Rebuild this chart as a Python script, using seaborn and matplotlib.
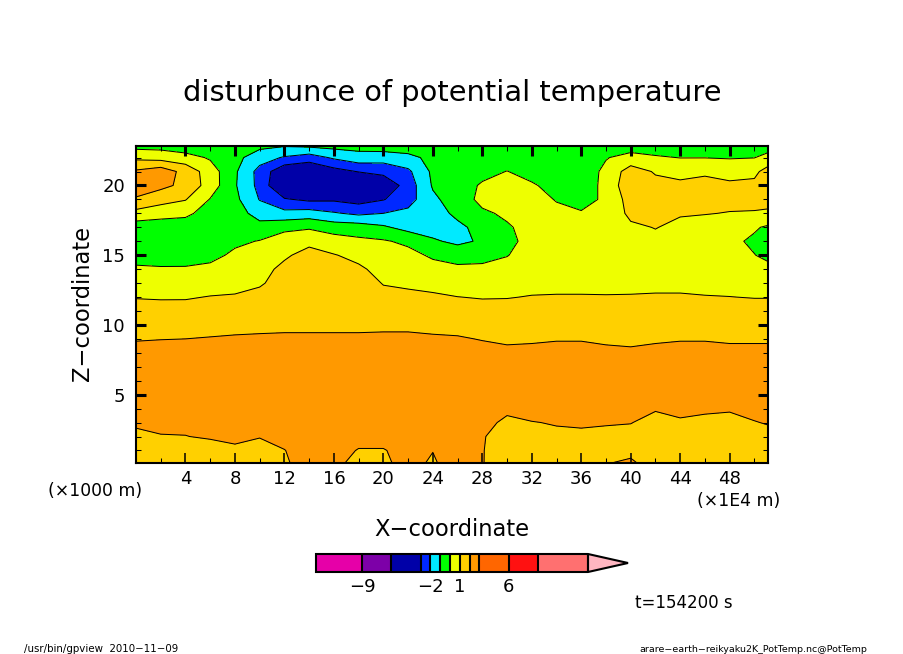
#! /usr/bin/env python3
# -*- coding: utf-8 -*-

import matplotlib
matplotlib.use('Agg')
import matplotlib.pyplot as plt
from matplotlib.ticker import MultipleLocator
import numpy as np
import seaborn as sns

#Grid of the field
x_grid = [0, 2, 4, 6, 8, 10, 12, 14, 16, 18, 20, 22, 24, 26, 28, 30, 32, 34, 36, 38, 40, 42, 44, 46, 48, 50, 51.2]
z_grid = [0, 1, 2, 3, 4, 5, 6, 7, 8, 9, 10, 11, 12, 13, 14, 15, 16, 17, 18, 19, 20, 21, 22, 22.9]
x_tick_values = [4, 8, 12, 16, 20, 24, 28, 32, 36, 40, 44, 48]

#One list per x position, bottom to top
t_x00 = [1.6, 1.75, 1.85, 2.1, 2.3, 2.5, 2.5, 2.4, 2.25, 1.95, 1.63, 1.3, 0.96, 0.54, 0.1, -0.25, -0.35, -0.55, 0.67, 1.85, 2.7, 2.15, 0.77, -0.4]
t_x02 = [1.5, 1.7, 1.96, 2.2, 2.4, 2.6, 2.6, 2.5, 2.3, 1.98, 1.65, 1.28, 0.93, 0.5, 0.07, -0.3, -0.4, -0.5, 0.35, 1.4, 2.25, 2.6, 0.6, -0.4]
t_x04 = [1.5, 1.7, 1.98, 2.2, 2.5, 2.7, 2.7, 2.5, 2.3, 2.0, 1.65, 1.3, 0.93, 0.5, 0.1, -0.4, -0.5, -0.6, 0.25, 1.05, 1.75, 1.65, 0.4, -0.7]
t_x06 = [1.3, 1.6, 2.1, 2.4, 2.6, 2.7, 2.7, 2.6, 2.4, 2.05, 1.7, 1.35, 1.03, 0.65, 0.25, -0.3, -0.5, -0.6, -0.5, -0.05, 0.55, 0.5, -0.12, -0.8]
t_x08 = [1.2, 1.75, 2.3, 2.5, 2.7, 2.8, 2.8, 2.6, 2.5, 2.1, 1.75, 1.4, 1.07, 0.75, 0.45, 0.2, -0.2, -0.5, -0.6, -0.75, -0.9, -0.85, -0.7, -0.6]
t_x10 = [1.3, 1.6, 2.05, 2.5, 2.7, 2.8, 2.8, 2.7, 2.5, 2.12, 1.8, 1.55, 1.25, 0.9, 0.65, 0.35, 0.05, -0.7, -1.35, -2.05, -2.3, -2.35, -1.55, -0.7]
t_x12 = [1.7, 1.95, 2.6, 2.7, 2.8, 2.9, 2.9, 2.8, 2.6, 2.2, 1.75, 1.6, 1.5, 1.35, 1.25, 0.85, 0.5, -0.25, -1.7, -2.9, -4.2, -3.8, -2.1, -0.85]
t_x14 = [2.9, 2.9, 2.9, 2.9, 2.9, 2.9, 2.9, 2.8, 2.6, 2.2, 1.75, 1.7, 1.6, 1.5, 1.4, 1.35, 0.75, -0.12, -1.55, -3.2, -4.8, -4.0, -2.5, -0.7]
t_x16 = [2.2, 2.7, 2.9, 2.9, 2.9, 2.9, 2.9, 2.8, 2.6, 2.2, 1.75, 1.7, 1.6, 1.45, 1.3, 1.05, 0.45, -0.45, -1.9, -3.15, -4.6, -3.4, -1.85, -0.6]
t_x18 = [1.7, 1.9, 2.6, 2.9, 2.9, 2.9, 2.9, 2.8, 2.6, 2.2, 1.75, 1.6, 1.45, 1.3, 1.15, 0.75, 0.2, -0.5, -2.2, -3.4, -4.5, -2.95, -1.4, -0.6]
t_x20 = [1.7, 1.9, 2.6, 2.9, 2.9, 2.9, 2.9, 2.8, 2.6, 2.25, 1.75, 1.4, 1.17, 0.97, 0.7, 0.45, 0.1, -0.85, -2.0, -3.05, -3.8, -2.7, -1.55, -0.4]
t_x22 = [2.5, 2.6, 2.8, 2.9, 2.9, 2.9, 2.9, 2.8, 2.6, 2.25, 1.75, 1.5, 1.2, 0.85, 0.5, 0.3, -0.2, -1.35, -1.75, -2.4, -2.55, -2.2, -1.25, -0.45]
t_x24 = [1.75, 2.04, 2.6, 2.8, 2.9, 2.9, 2.9, 2.8, 2.6, 2.2, 1.6, 1.45, 1.12, 0.75, 0.35, -0.15, -0.85, -1.5, -1.4, -1.2, -0.9, -0.8, -0.75, -0.7]
t_x26 = [2.9, 2.9, 2.9, 2.9, 2.9, 2.9, 2.8, 2.7, 2.45, 2.1, 1.65, 1.35, 1.01, 0.6, 0.15, -0.3, -1.25, -1.2, -0.8, -0.5, -0.4, -0.5, -0.6, -0.65]
t_x28 = [2.03, 2.03, 2.05, 2.3, 2.7, 2.8, 2.8, 2.6, 2.35, 1.95, 1.6, 1.3, 0.95, 0.6, 0.2, -0.3, -0.85, -0.7, -0.15, 0.25, 0.1, -0.25, -0.55, -0.65]
t_x30 = [1.6, 1.65, 1.7, 1.8, 2.2, 2.4, 2.5, 2.45, 2.2, 1.85, 1.55, 1.25, 0.97, 0.7, 0.35, -0.04, -0.2, -0.1, 0.15, 0.4, 0.45, 0.02, -0.4, -0.6]
t_x32 = [1.6, 1.65, 1.8, 1.97, 2.3, 2.5, 2.55, 2.45, 2.2, 1.9, 1.6, 1.3, 1.03, 0.8, 0.6, 0.45, 0.25, 0.3, 0.4, 0.4, 0.1, -0.3, -0.5, -0.6]
t_x34 = [1.6, 1.7, 1.85, 2.05, 2.3, 2.5, 2.55, 2.45, 2.25, 1.95, 1.65, 1.35, 1.05, 0.8, 0.65, 0.55, 0.5, 0.45, 0.25, -0.06, -0.3, -0.5, -0.6, -0.65]
t_x36 = [1.6, 1.7, 1.85, 2.1, 2.35, 2.5, 2.55, 2.45, 2.25, 1.95, 1.65, 1.35, 1.05, 0.8, 0.65, 0.55, 0.45, 0.3, 0.05, -0.2, -0.4, -0.5, -0.5, -0.55]
t_x38 = [2.0, 1.8, 1.9, 2.03, 2.3, 2.5, 2.55, 2.45, 2.2, 1.85, 1.6, 1.35, 1.05, 0.75, 0.65, 0.5, 0.45, 0.45, 0.35, 0.1, 0.2, 0.2, -0.05, -0.4]
t_x40 = [2.2, 1.75, 1.8, 2.02, 2.3, 2.45, 2.5, 2.4, 2.15, 1.8, 1.55, 1.3, 1.05, 0.8, 0.7, 0.6, 0.6, 0.85, 1.2, 1.45, 1.8, 1.5, 0.3, -0.45]
t_x42 = [1.6, 1.6, 1.65, 1.8, 2.05, 2.3, 2.45, 2.35, 2.2, 1.9, 1.6, 1.35, 1.06, 0.85, 0.75, 0.75, 0.8, 1.03, 1.35, 1.5, 1.3, 0.9, 0.1, -0.5]
t_x44 = [1.65, 1.65, 1.75, 1.9, 2.2, 2.4, 2.5, 2.4, 2.25, 1.95, 1.65, 1.35, 1.06, 0.85, 0.75, 0.7, 0.7, 0.8, 1.07, 1.3, 1.2, 0.7, -0.02, -0.5]
t_x46 = [1.65, 1.65, 1.72, 1.85, 2.1, 2.4, 2.5, 2.4, 2.25, 1.95, 1.65, 1.3, 1.03, 0.8, 0.6, 0.5, 0.45, 0.7, 1.03, 1.25, 1.3, 0.85, -0.02, -0.5]
t_x48 = [1.65, 1.65, 1.7, 1.85, 2.05, 2.3, 2.45, 2.35, 2.2, 1.9, 1.6, 1.3, 1.01, 0.75, 0.45, 0.25, 0.2, 0.55, 0.97, 1.2, 1.15, 0.7, -0.07, -0.45]
t_x50 = [1.65, 1.65, 1.75, 1.97, 2.2, 2.4, 2.45, 2.35, 2.2, 1.9, 1.6, 1.3, 0.97, 0.65, 0.3, 0.02, -0.15, 0.1, 0.9, 1.4, 1.25, 0.75, -0.02, -0.4]
t_x51 = [1.65, 1.7, 1.8, 2.05, 2.3, 2.4, 2.45, 2.35, 2.2, 1.9, 1.6, 1.3, 0.97, 0.65, 0.2, -0.2, -0.35, -0.15, 0.75, 1.5, 1.7, 1.5, 0.3, -0.4]

#Colour steps
levels = [-13.7, -9, -6, -3, -2, -1, 0, 1, 2, 3, 6, 9, 14.1]
level_colors = ['#E600A8', '#7D00A8', '#0000A8', '#0028FF', '#00EAFF', '#00FF00',
                '#EEFF00', '#FFD000', '#FF9900', '#FF6600', '#FF1111', '#FF7070']
over_color = '#FFB6C1'
cbar_ticks = [-9, -2, 1, 6]

sns.set_theme(style='ticks')
plt.rcParams['font.family'] = ['DejaVu Sans']

W, H = 904, 654
fig = plt.figure(figsize=(W/100, H/100), dpi=100)
ax = fig.add_axes([136/W, 1-463/H, (768-136)/W, (463-146)/H])

field = np.column_stack([t_x00, t_x02, t_x04, t_x06, t_x08, t_x10, t_x12, t_x14, t_x16,
                         t_x18, t_x20, t_x22, t_x24, t_x26, t_x28, t_x30, t_x32, t_x34,
                         t_x36, t_x38, t_x40, t_x42, t_x44, t_x46, t_x48, t_x50, t_x51])

palette = sns.color_palette(level_colors)
filled = ax.contourf(x_grid, z_grid, field, levels=levels, colors=palette, extend='max', antialiased=False)
filled.cmap.set_over(over_color)
ax.contour(x_grid, z_grid, field, levels=levels, colors='black', linewidths=0.72, linestyles='solid')

ax.set_xlim(0, 51.1)
ax.set_ylim(0.1, 22.83)
sns.despine(ax=ax, top=False, right=False)
ax.set_axisbelow(False)  #ticks style puts them under the fill
for side in ax.spines.values():
    side.set_linewidth(1.5)
    side.set_color('black')

ax.set_xticks(x_tick_values)
ax.xaxis.set_minor_locator(MultipleLocator(2))
ax.yaxis.set_major_locator(MultipleLocator(5))
ax.yaxis.set_minor_locator(MultipleLocator(1))
ax.tick_params(which='major', direction='in', top=True, right=True, length=7, width=1.1,
               color='black', labelsize=13, labelcolor='black')
ax.tick_params(which='minor', direction='in', top=True, right=True, length=3.8, width=0.75, color='black')
ax.tick_params(axis='x', which='major', pad=5)
ax.tick_params(axis='y', which='major', pad=8)
for tick in ax.xaxis.get_major_ticks():
    tick.tick2line.set_markeredgewidth(2.2)
for tick in ax.yaxis.get_major_ticks():
    tick.tick1line.set_markeredgewidth(2.2)
    tick.tick2line.set_markeredgewidth(2.2)

#Colour bar, the axes holds the body and the arrow together
cax = fig.add_axes([316/W, 1-572/H, 312/W, 18/H])
cbar = fig.colorbar(filled, cax=cax, orientation='horizontal', spacing='proportional',
                    extendfrac=40/272, drawedges=True, ticks=cbar_ticks)
cbar.outline.set_linewidth(1.5)
cbar.outline.set_edgecolor('black')
cbar.dividers.set_linewidth(1.5)
cbar.dividers.set_color('black')
cax.minorticks_off()
cax.tick_params(length=0, pad=4, labelsize=13, labelcolor='black')

#All the labels sit at fixed places on the page
def page_text(px, py, text, size, ha='center', **kwargs):
    fig.text(px/W, 1-py/H, text, fontsize=size, ha=ha, va='center', color='black', **kwargs)

page_text(452.5, 93, 'disturbunce of potential temperature', 20.8)
page_text(83, 303, 'Z\u2212coordinate', 16.3, rotation=90)
page_text(452, 529, 'X\u2212coordinate', 16.3)
page_text(95.5, 491, '(\u00d71000 m)', 12.4)
page_text(739, 501, '(\u00d71E4 m)', 12.4)
page_text(683.5, 603, 't=154200 s', 12)
page_text(101, 649, '/usr/bin/gpview  2010\u221211\u221209', 7.4)
page_text(753, 649, 'arare\u2212earth\u2212reikyaku2K_PotTemp.nc@PotTemp', 6.8)

fig.savefig('out.png', dpi=100)
plt.close()
